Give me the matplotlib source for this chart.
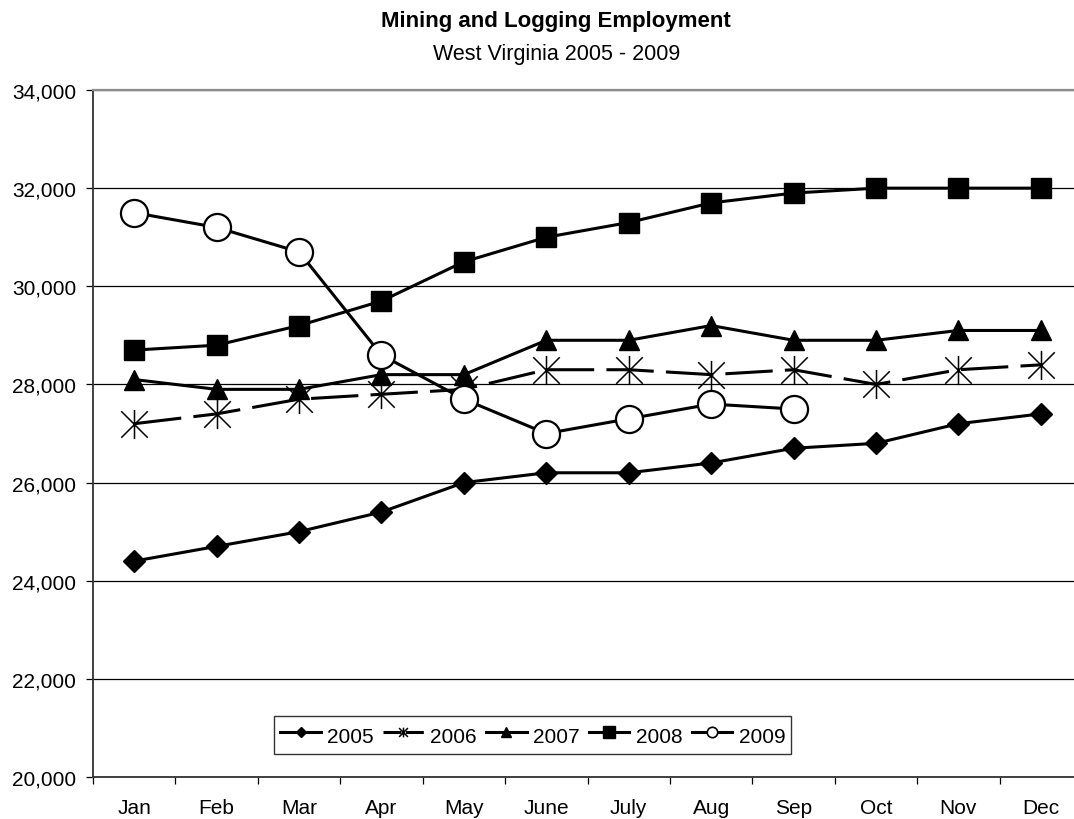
import matplotlib
matplotlib.use("Agg")
import matplotlib.pyplot as plt
from matplotlib.path import Path
from matplotlib.ticker import FuncFormatter, FixedLocator

months = ["Jan", "Feb", "Mar", "Apr", "May", "June", "July", "Aug", "Sep", "Oct", "Nov", "Dec"]
emp_2005 = [24400, 24700, 25000, 25400, 26000, 26200, 26200, 26400, 26700, 26800, 27200, 27400]
emp_2006 = [27200, 27400, 27700, 27800, 27900, 28300, 28300, 28200, 28300, 28000, 28300, 28400]
emp_2007 = [28100, 27900, 27900, 28200, 28200, 28900, 28900, 29200, 28900, 28900, 29100, 29100]
emp_2008 = [28700, 28800, 29200, 29700, 30500, 31000, 31300, 31700, 31900, 32000, 32000, 32000]
emp_2009 = [31500, 31200, 30700, 28600, 27700, 27000, 27300, 27600, 27500]

plt.rcParams['font.family'] = ['Liberation Sans', 'DejaVu Sans']

# Excel-style star marker: an X with a vertical bar
star = Path([(-1, -1), (1, 1), (-1, 1), (1, -1), (0, -1.1), (0, 1.1)],
            [Path.MOVETO, Path.LINETO, Path.MOVETO, Path.LINETO, Path.MOVETO, Path.LINETO])

fig = plt.figure(figsize=(10.74, 8.2), dpi=100)
# plot area runs a little past the right edge of the picture, like the original
ax = fig.add_axes([0.0866, 0.0512, 0.9209, 0.8378])

x = list(range(len(months)))
lw = 2.2
ax.plot(x, emp_2005, color='black', lw=lw, marker='D', markersize=11, label='2005', zorder=3)
ax.plot(x, emp_2006, color='black', lw=lw, marker=star, markersize=21, markeredgewidth=1.1,
        fillstyle='none', dashes=(15.5, 4), label='2006', zorder=3)
ax.plot(x, emp_2007, color='black', lw=lw, marker='^', markersize=15, label='2007', zorder=3)
ax.plot(x, emp_2008, color='black', lw=lw, marker='s', markersize=15, label='2008', zorder=3)
ax.plot(x[:len(emp_2009)], emp_2009, color='black', lw=lw, marker='o', markersize=19.5,
        markerfacecolor='white', markeredgewidth=1.6, label='2009', zorder=4)

ax.set_xlim(-0.5, 11.5)
ax.set_ylim(20000, 34000)
ax.set_yticks(range(20000, 34001, 2000))
ax.yaxis.set_major_formatter(FuncFormatter(lambda v, p: f"{int(v):,}"))
ax.grid(axis='y', color='black', lw=0.9)
ax.set_axisbelow(True)

ax.set_xticks(x)
ax.set_xticklabels(months)
ax.tick_params(axis='x', which='major', length=0, pad=15, labelsize=15)
ax.xaxis.set_minor_locator(FixedLocator([i - 0.5 for i in range(13)]))
ax.tick_params(axis='x', which='minor', length=5, width=0.9, direction='out')
ax.tick_params(axis='y', length=5, width=0.9, direction='out', labelsize=15, pad=7)

ax.spines['right'].set_visible(False)
ax.spines['top'].set_color('#8c8c8c')
ax.spines['top'].set_linewidth(1.6)
ax.spines['top'].set_zorder(2.5)
for s in ['left', 'bottom']:
    ax.spines[s].set_color('#333333')
    ax.spines[s].set_linewidth(1.3)

fig.text(0.518, 0.967, "Mining and Logging Employment", ha='center', va='baseline',
         fontsize=16, fontweight='bold')
fig.text(0.518, 0.927, "West Virginia 2005 - 2009", ha='center', va='baseline', fontsize=15.5)

leg = ax.legend(loc='center', bbox_to_anchor=(0.496, 0.1024), bbox_transform=fig.transFigure,
                ncol=5, frameon=True, fancybox=False, edgecolor='black', fontsize=15,
                handlelength=1.95, handleheight=1.45, handletextpad=0.3, columnspacing=0.45,
                borderpad=0.3, borderaxespad=0)
leg.get_frame().set_linewidth(1.0)
# small markers in the legend, as in the original
legend_sizes = [5, 7, 7, 8, 7.5]
for h, ms in zip(leg.legend_handles, legend_sizes):
    h.set_markersize(ms)
leg.legend_handles[1].set_dashes((5.9, 1.4))
leg.legend_handles[4].set_markeredgewidth(1.2)

fig.savefig("out.png", dpi=100)
